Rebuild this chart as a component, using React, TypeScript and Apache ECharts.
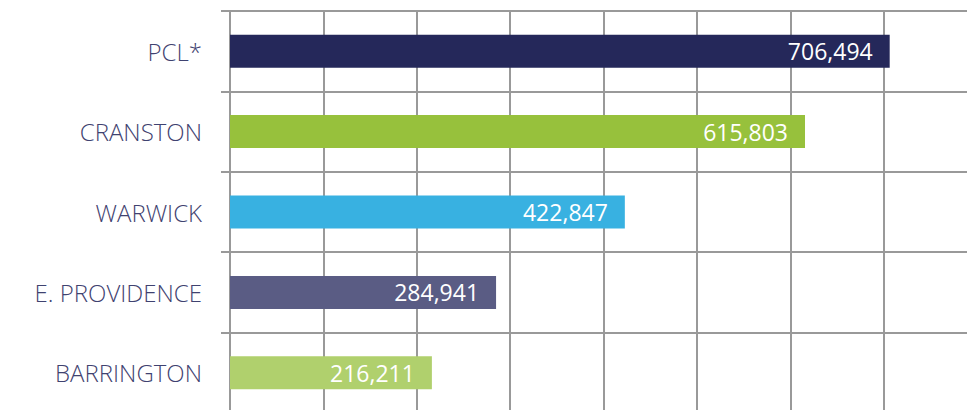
import React, { useEffect, useRef } from "react";
import * as echarts from "echarts";

const categories = ["PCL*", "CRANSTON", "WARWICK", "E. PROVIDENCE", "BARRINGTON"];
const values = [706494, 615803, 422847, 284941, 216211];
const barColors = ["#25285a", "#97c13c", "#38b1e1", "#5a5c84", "#b0d06d"];

export default function App() {
  const ref = useRef<HTMLDivElement>(null);
  useEffect(() => {
    if (!ref.current) return;
    const chart = echarts.init(ref.current, null, { renderer: "svg" });
    const lineStyle = { color: "#999999", width: 2 };
    chart.setOption({
      animation: false,
      grid: {
        left: 230,
        top: 11,
        width: 747,
        height: 402,
        containLabel: false,
        outerBoundsMode: "none",
      },
      xAxis: {
        type: "value",
        min: 0,
        max: 800000,
        interval: 100000,
        axisLabel: { show: false },
        axisLine: { show: false },
        axisTick: { show: false },
        splitLine: { show: true, lineStyle },
      },
      yAxis: {
        type: "category",
        inverse: true,
        data: categories,
        axisLine: { show: true, lineStyle },
        axisTick: { show: true, length: 9, lineStyle },
        splitLine: { show: true, lineStyle },
        axisLabel: {
          color: "#3f4270",
          fontFamily: "Open Sans",
          fontWeight: 300,
          fontSize: 24,
          margin: 28,
        },
      },
      series: [
        {
          type: "bar",
          barWidth: 33,
          data: values.map((v, i) => ({ value: v, itemStyle: { color: barColors[i] } })),
          label: {
            show: true,
            position: "insideRight",
            distance: 17,
            color: "#ffffff",
            fontFamily: "Open Sans",
            fontWeight: 400,
            fontSize: 23,
            formatter: (p: any) => Number(p.value).toLocaleString("en-US"),
          },
        },
      ],
    });
    return () => chart.dispose();
  }, []);
  return (
    <div
      ref={ref}
      style={{ position: "absolute", left: 0, top: 0, width: 967, height: 410, background: "#ffffff" }}
    />
  );
}
